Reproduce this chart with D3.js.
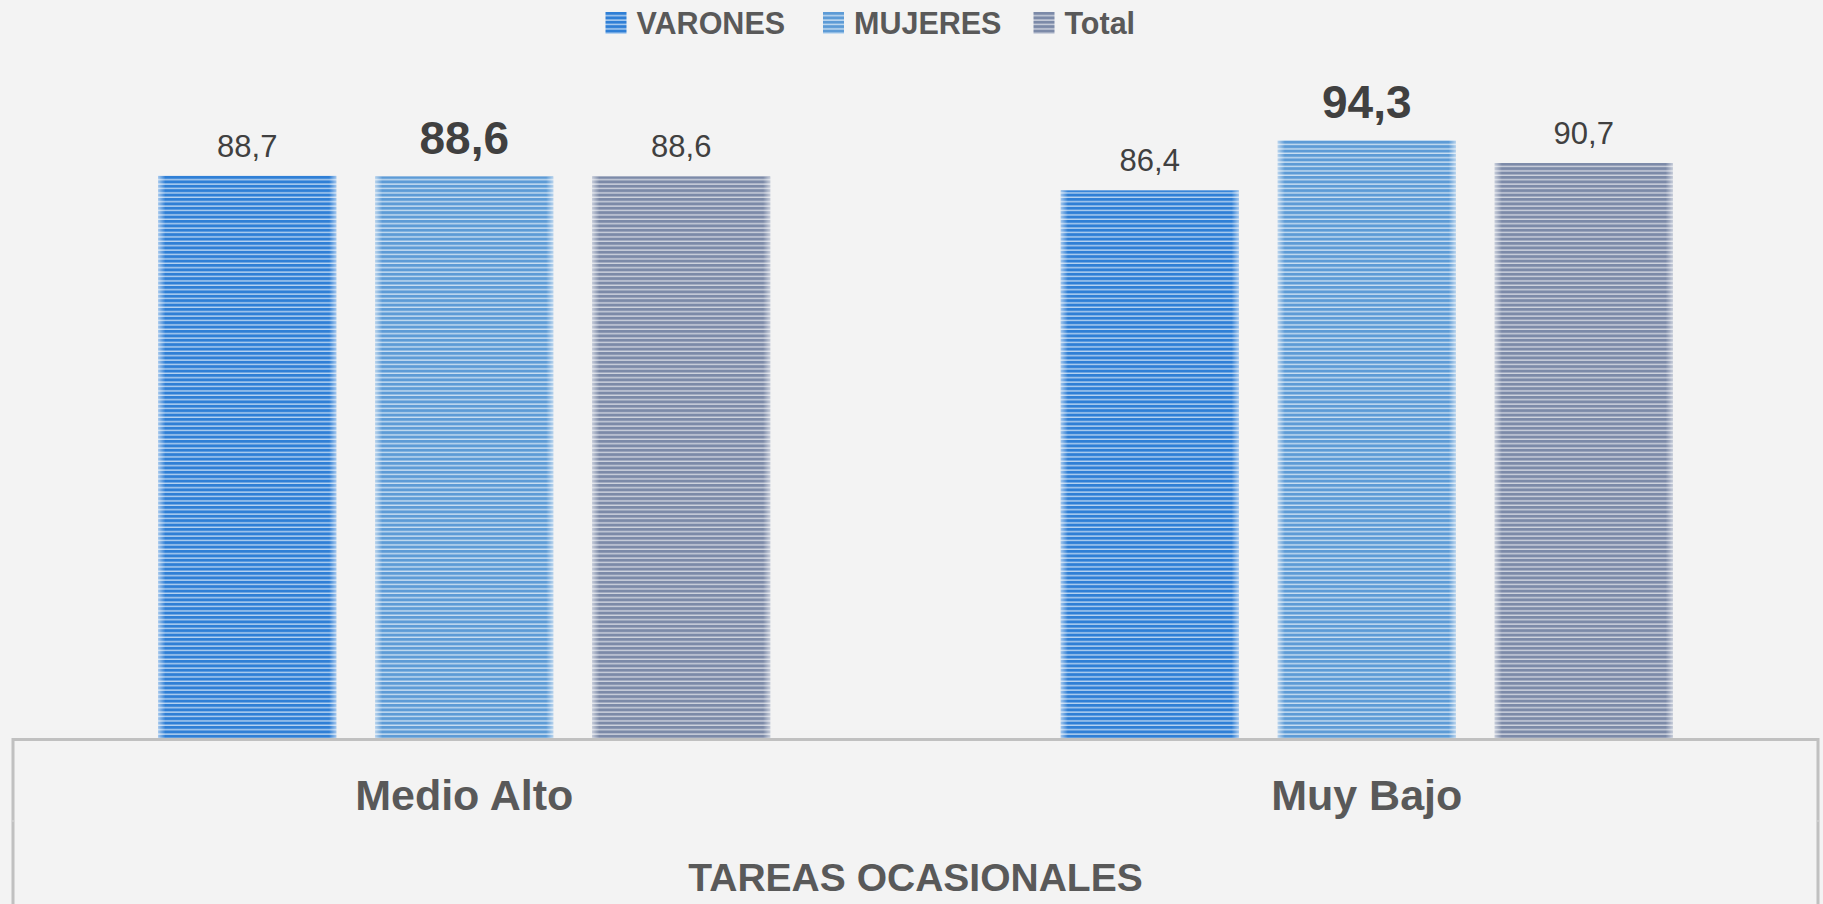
<!DOCTYPE html>
<html>
<head>
<meta charset="utf-8">
<script src="https://cdn.jsdelivr.net/npm/d3@7"></script>
<style>
  html, body { margin: 0; padding: 0; background: #f3f3f3; }
  svg { display: block; }
</style>
</head>
<body>
<div id="chart"></div>
<script>
// data
var categories = ["Medio Alto", "Muy Bajo"];
var series = ["VARONES", "MUJERES", "Total"];
var varones = [88.7, 86.4];
var mujeres = [88.6, 94.3];
var total = [88.6, 90.7];
var groupTitle = "TAREAS OCASIONALES";

var values = [varones, mujeres, total];

var width = 1823,
    height = 904;

var colors = {
  "VARONES": { dark: "#2f7fd6", light: "#b7d3f1" },
  "MUJERES": { dark: "#5d9bd6", light: "#cadff2" },
  "Total":   { dark: "#7c8aa8", light: "#cfd4df" }
};

var svg = d3.select("#chart")
    .append("svg")
    .attr("width", width)
    .attr("height", height);

svg.append("rect")
    .attr("width", width)
    .attr("height", height)
    .attr("fill", "#f3f3f3");

var defs = svg.append("defs");

/* striped fills */
series.forEach(function(s, i) {
  var p = defs.append("pattern")
      .attr("id", "stripe" + i)
      .attr("patternUnits", "userSpaceOnUse")
      .attr("width", 8)
      .attr("height", 4.4);
  p.append("rect").attr("width", 8).attr("height", 4.4).attr("fill", colors[s].light);
  p.append("rect").attr("width", 8).attr("height", 3).attr("fill", colors[s].dark);
});

// soft edges on the bars
var glow = defs.append("linearGradient")
    .attr("id", "edge")
    .attr("x1", 0).attr("x2", 1).attr("y1", 0).attr("y2", 0);
glow.append("stop").attr("offset", "0%").attr("stop-color", "#fff").attr("stop-opacity", 0.55);
glow.append("stop").attr("offset", "4%").attr("stop-color", "#fff").attr("stop-opacity", 0);
glow.append("stop").attr("offset", "96%").attr("stop-color", "#fff").attr("stop-opacity", 0);
glow.append("stop").attr("offset", "100%").attr("stop-color", "#fff").attr("stop-opacity", 0.55);

/* scales */
var left = 13, right = 1818, baseY = 739.5;

var x0 = d3.scaleBand()
    .domain(categories)
    .range([left, right])
    .padding(0);

var groupW = x0.bandwidth() * 0.678;
var x1 = d3.scaleBand()
    .domain(series)
    .range([(x0.bandwidth() - groupW) / 2, (x0.bandwidth() + groupW) / 2])
    .paddingInner(0.18)
    .paddingOuter(0);

var y = d3.scaleLinear()
    .domain([0, 100])
    .range([baseY, baseY - 635.6]);

var rows = [];
categories.forEach(function(c, ci) {
  series.forEach(function(s, si) {
    rows.push({ cat: c, ser: s, si: si, value: values[si][ci] });
  });
});

/* bars */
var g = svg.append("g");

var bars = g.selectAll("g.bar")
    .data(rows)
    .enter().append("g")
    .attr("class", "bar");

bars.append("rect")
    .attr("x", function(d) { return x0(d.cat) + x1(d.ser); })
    .attr("y", function(d) { return y(d.value); })
    .attr("width", x1.bandwidth())
    .attr("height", function(d) { return baseY - y(d.value); })
    .attr("fill", function(d) { return "url(#stripe" + d.si + ")"; });

bars.append("rect")
    .attr("x", function(d) { return x0(d.cat) + x1(d.ser); })
    .attr("y", function(d) { return y(d.value); })
    .attr("width", x1.bandwidth())
    .attr("height", function(d) { return baseY - y(d.value); })
    .attr("fill", "url(#edge)");

/* value labels */
bars.append("text")
    .attr("x", function(d) { return x0(d.cat) + x1(d.ser) + x1.bandwidth() / 2; })
    .attr("y", function(d) { return y(d.value) - (d.ser == "MUJERES" ? 22 : 19); })
    .attr("text-anchor", "middle")
    .attr("font-family", "Liberation Sans, Arial, sans-serif")
    .attr("font-size", function(d) { return d.ser == "MUJERES" ? 46 : 31; })
    .attr("font-weight", function(d) { return d.ser == "MUJERES" ? "bold" : "normal"; })
    .attr("fill", "#404040")
    .text(function(d) { return d3.format(".1f")(d.value).replace(".", ","); });

/* category axis box */
var axis = svg.append("g")
    .attr("fill", "none")
    .attr("stroke", "#c0c0c0")
    .attr("stroke-width", 3);

axis.append("path")
    .attr("d", "M" + left + "," + height + "V" + baseY + "H" + right + "V" + height);

axis.selectAll("line.tick")
    .data([left, right])
    .enter().append("line")
    .attr("x1", function(d) { return d - 2; })
    .attr("x2", function(d) { return d + 2; })
    .attr("y1", 821)
    .attr("y2", 821)
    .attr("stroke", "#d8d8d8")
    .attr("stroke-width", 1);

svg.selectAll("text.cat")
    .data(categories)
    .enter().append("text")
    .attr("class", "cat")
    .attr("x", function(d) { return x0(d) + x0.bandwidth() / 2; })
    .attr("y", 810)
    .attr("text-anchor", "middle")
    .attr("font-family", "Liberation Sans, Arial, sans-serif")
    .attr("font-size", 43)
    .attr("font-weight", "bold")
    .attr("fill", "#595959")
    .text(function(d) { return d; });

svg.append("text")
    .attr("x", (left + right) / 2)
    .attr("y", 891)
    .attr("text-anchor", "middle")
    .attr("font-family", "Liberation Sans, Arial, sans-serif")
    .attr("font-size", 39)
    .attr("font-weight", "bold")
    .attr("fill", "#595959")
    .text(groupTitle);

/* legend */
var legendX = [605.5, 823, 1033.5];
var legend = svg.selectAll("g.legend")
    .data(series)
    .enter().append("g")
    .attr("class", "legend")
    .attr("transform", function(d, i) { return "translate(" + legendX[i] + ",12)"; });

legend.append("rect")
    .attr("width", 21)
    .attr("height", 22)
    .attr("fill", function(d, i) { return "url(#stripe" + i + ")"; });

legend.append("text")
    .attr("x", 31)
    .attr("y", 22)
    .attr("font-family", "Liberation Sans, Arial, sans-serif")
    .attr("font-size", 30.5)
    .attr("font-weight", "bold")
    .attr("fill", "#595959")
    .text(function(d) { return d; });
</script>
</body>
</html>
